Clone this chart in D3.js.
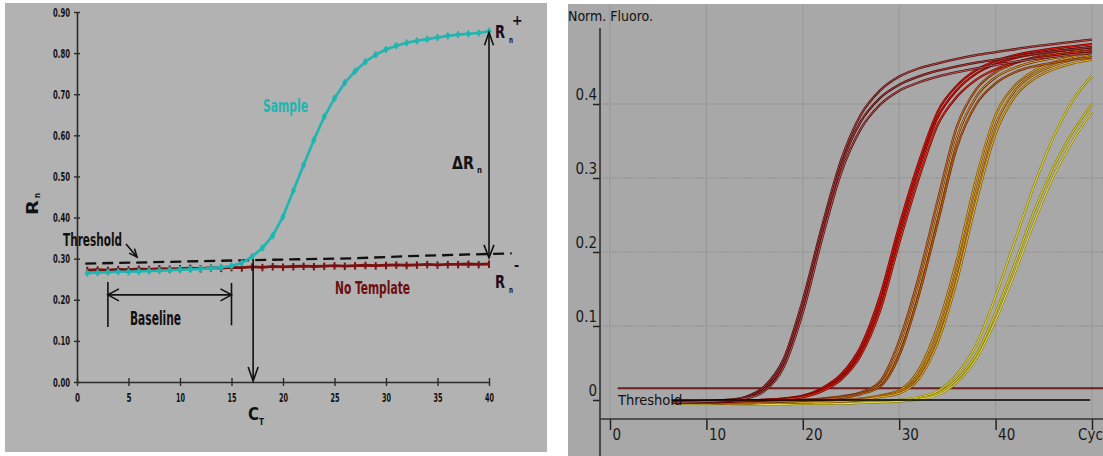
<!DOCTYPE html>
<html lang="en">
<head>
  <meta charset="UTF-8">
  <title>Real-time PCR amplification plots</title>
  <script src="https://cdn.jsdelivr.net/npm/d3@7"></script>
  <style>
    html, body {
      margin: 0;
      padding: 0;
      background: #fff;
    }
    svg { display: block; }
  </style>
</head>
<body>
  <svg id="chart" width="1103" height="456"></svg>
  <script>
    // ---- left panel data (Rn vs cycle)
    const cyclesLeft = [1,2,3,4,5,6,7,8,9,10,11,12,13,14,15,16,17,18,19,20,
      21,22,23,24,25,26,27,28,29,30,31,32,33,34,35,36,37,38,39,40];
    const sampleRn = [0.265,0.266,0.267,0.268,0.268,0.269,0.270,0.271,0.272,0.273,
      0.274,0.275,0.277,0.279,0.282,0.290,0.305,0.326,0.356,0.402,
      0.465,0.528,0.589,0.645,0.690,0.728,0.756,0.779,0.796,0.809,
      0.818,0.825,0.830,0.834,0.838,0.842,0.845,0.847,0.849,0.853];
    const noTemplateRn = [0.272,0.273,0.272,0.274,0.273,0.275,0.274,0.276,0.275,0.276,
      0.277,0.276,0.278,0.277,0.279,0.278,0.280,0.279,0.281,0.280,
      0.281,0.282,0.281,0.282,0.283,0.282,0.283,0.284,0.283,0.284,
      0.285,0.284,0.285,0.286,0.285,0.286,0.286,0.287,0.286,0.287];
    const thresholdLeftCycles = [0.8, 16, 27, 32, 42.2];
    const thresholdLeftRn = [0.288, 0.296, 0.301, 0.306, 0.313];
    const yTicksLeft = [0, 0.1, 0.2, 0.3, 0.4, 0.5, 0.6, 0.7, 0.8, 0.9];
    const xTicksLeft = [0, 5, 10, 15, 20, 25, 30, 35, 40];
    const ctCycle = 17.1;
    const baselineFrom = 3, baselineTo = 15;

    // ---- right panel data (normalised fluorescence vs cycle)
    const cyclesRight = [6.5,8,10,12,14,16,18,20,22,24,26,28,30,32,34,36,38,40,42,44,46,48,50];
    const curvesA = [
      [-0.002,-0.002,-0.001,0.000,0.004,0.018,0.055,0.135,0.235,0.325,0.385,0.418,0.437,0.448,0.455,0.461,0.466,0.470,0.474,0.478,0.481,0.484,0.487],
      [-0.003,-0.003,-0.002,-0.001,0.003,0.015,0.050,0.128,0.228,0.318,0.376,0.408,0.426,0.437,0.445,0.451,0.456,0.460,0.464,0.468,0.471,0.474,0.477],
      [-0.003,-0.003,-0.002,-0.001,0.002,0.012,0.044,0.118,0.218,0.308,0.366,0.399,0.418,0.429,0.437,0.443,0.448,0.453,0.457,0.461,0.464,0.467,0.469]
    ];
    const curvesB = [
      [-0.002,-0.002,-0.002,-0.002,-0.001,0.000,0.002,0.006,0.016,0.035,0.072,0.140,0.235,0.320,0.390,0.425,0.446,0.458,0.466,0.471,0.475,0.478,0.481],
      [-0.002,-0.002,-0.002,-0.002,-0.001,0.000,0.002,0.005,0.014,0.031,0.066,0.130,0.224,0.310,0.382,0.419,0.441,0.454,0.462,0.467,0.471,0.474,0.477],
      [-0.003,-0.003,-0.003,-0.002,-0.001,0.000,0.001,0.004,0.012,0.028,0.060,0.120,0.212,0.298,0.372,0.410,0.433,0.447,0.456,0.462,0.466,0.469,0.472]
    ];
    const curvesC = [
      [-0.003,-0.003,-0.003,-0.003,-0.003,-0.002,-0.001,0.000,0.002,0.005,0.010,0.025,0.080,0.165,0.270,0.370,0.420,0.443,0.455,0.463,0.468,0.472,0.475],
      [-0.003,-0.003,-0.003,-0.003,-0.003,-0.002,-0.001,0.000,0.001,0.004,0.009,0.021,0.068,0.150,0.252,0.355,0.410,0.436,0.449,0.457,0.462,0.466,0.469],
      [-0.004,-0.004,-0.004,-0.003,-0.003,-0.003,-0.002,-0.001,0.001,0.003,0.008,0.018,0.060,0.140,0.240,0.342,0.400,0.428,0.443,0.451,0.456,0.460,0.463]
    ];
    const curvesD = [
      [-0.003,-0.003,-0.004,-0.004,-0.004,-0.004,-0.003,-0.003,-0.002,0.000,0.002,0.006,0.013,0.040,0.100,0.190,0.300,0.385,0.425,0.445,0.456,0.464,0.469],
      [-0.003,-0.003,-0.004,-0.004,-0.004,-0.004,-0.003,-0.003,-0.002,-0.001,0.001,0.005,0.011,0.033,0.088,0.175,0.283,0.372,0.418,0.440,0.452,0.460,0.465],
      [-0.004,-0.004,-0.004,-0.005,-0.005,-0.004,-0.004,-0.003,-0.003,-0.002,0.000,0.004,0.009,0.028,0.078,0.162,0.268,0.360,0.410,0.434,0.447,0.455,0.460]
    ];
    const curvesE = [
      [-0.004,-0.004,-0.005,-0.005,-0.005,-0.005,-0.005,-0.005,-0.004,-0.004,-0.003,-0.002,0.000,0.004,0.012,0.035,0.075,0.140,0.215,0.290,0.355,0.405,0.438],
      [-0.004,-0.004,-0.005,-0.005,-0.005,-0.005,-0.005,-0.005,-0.005,-0.004,-0.004,-0.003,-0.001,0.002,0.009,0.028,0.062,0.118,0.185,0.255,0.315,0.362,0.400],
      [-0.005,-0.005,-0.005,-0.005,-0.006,-0.006,-0.006,-0.005,-0.005,-0.005,-0.004,-0.003,-0.002,0.001,0.007,0.024,0.056,0.108,0.172,0.240,0.302,0.350,0.390]
    ];
    const thresholdRight = 0.016;
    const thresholdRightFrom = 0.8, thresholdRightTo = 52;
    const zeroLineFrom = 6.4, zeroLineTo = 49.8;
    const yTicksRight = [0, 0.1, 0.2, 0.3, 0.4];
    const xTicksRight = [0, 10, 20, 30, 40, 50];

    const NARROW = "'Liberation Sans Narrow', 'Arial Narrow', 'DejaVu Sans Condensed', sans-serif";
    const svg = d3.select('#chart');

    function txt(g, s, x, y, size, opts = {}) {
      const t = g.append('text')
        .attr('x', x).attr('y', y)
        .attr('font-family', NARROW)
        .attr('font-size', size)
        .attr('font-weight', opts.weight || 'bold')
        .attr('fill', opts.fill || '#111')
        .text(s);
      if (opts.len) t.attr('textLength', opts.len).attr('lengthAdjust', 'spacingAndGlyphs');
      if (opts.anchor) t.attr('text-anchor', opts.anchor);
      return t;
    }

    function head(g, x, y, angle, len = 12, half = 5) {
      g.append('path')
        .attr('transform', `translate(${x},${y}) rotate(${angle})`)
        .attr('d', `M${-len},${-half}L0,0L${-len},${half}`)
        .attr('fill', 'none').attr('stroke', '#111').attr('stroke-width', 1.6);
    }

    // =================== LEFT PANEL ===================
    const L = svg.append('g');
    L.append('rect').attr('x', 5).attr('y', 3).attr('width', 542).attr('height', 449).attr('fill', '#b2b2b2');

    const xL = d3.scaleLinear().domain([0, 40]).range([77, 489]);
    const yL = d3.scaleLinear().domain([0, 0.9]).range([382, 12]);

    const yAx = L.append('g').attr('transform', 'translate(77,0)')
      .call(d3.axisLeft(yL).tickValues(yTicksLeft).tickFormat(d3.format('.2f')).tickSize(3).tickSizeOuter(0).tickPadding(4));
    const xAx = L.append('g').attr('transform', 'translate(0,382)')
      .call(d3.axisBottom(xL).tickValues(xTicksLeft).tickFormat(d3.format('d')).tickSize(4).tickSizeOuter(0).tickPadding(7));
    [yAx, xAx].forEach(a => {
      a.select('.domain').attr('stroke', '#2a2a2a').attr('stroke-width', 1.6);
      a.selectAll('.tick line').attr('stroke', '#2a2a2a').attr('stroke-width', 1.4);
      a.selectAll('.tick text')
        .attr('font-family', NARROW).attr('font-weight', 'bold').attr('fill', '#111')
        .attr('lengthAdjust', 'spacingAndGlyphs');
    });
    yAx.selectAll('.tick line').attr('x1', 3);
    yAx.selectAll('.tick text').attr('font-size', 12.5).attr('textLength', 17);
    xAx.selectAll('.tick line').attr('y1', -4);
    xAx.selectAll('.tick text').attr('font-size', 13).attr('textLength', d => d < 10 ? 5 : 9);

    // threshold (dashed)
    const thrLeft = thresholdLeftCycles.map((c, i) => [c, thresholdLeftRn[i]]);
    L.append('path')
      .attr('d', d3.line().x(d => xL(d[0])).y(d => yL(d[1]))(thrLeft))
      .attr('fill', 'none').attr('stroke', '#111').attr('stroke-width', 2.3)
      .attr('stroke-dasharray', '11,6');

    // no template
    const ntc = cyclesLeft.map((c, i) => [c, noTemplateRn[i]]);
    L.append('path')
      .attr('d', d3.line().x(d => xL(d[0])).y(d => yL(d[1]))(ntc))
      .attr('fill', 'none').attr('stroke', '#7a1212').attr('stroke-width', 2.8);
    L.selectAll('.ntcMark').data(ntc).join('line')
      .attr('x1', d => xL(d[0])).attr('x2', d => xL(d[0]))
      .attr('y1', d => yL(d[1]) - 3.5).attr('y2', d => yL(d[1]) + 4)
      .attr('stroke', '#7a1212').attr('stroke-width', 2);

    // sample
    const sample = cyclesLeft.map((c, i) => [c, sampleRn[i]]);
    L.append('path')
      .attr('d', d3.line().x(d => xL(d[0])).y(d => yL(d[1]))(sample))
      .attr('fill', 'none').attr('stroke', '#1fb5b0').attr('stroke-width', 2.6);
    L.selectAll('.sMark').data(sample).join('line')
      .attr('x1', d => xL(d[0])).attr('x2', d => xL(d[0]))
      .attr('y1', d => yL(d[1]) - 3.5).attr('y2', d => yL(d[1]) + 3.5)
      .attr('stroke', '#1fb5b0').attr('stroke-width', 1.8);
    L.selectAll('.sDot').data(sample).join('circle')
      .attr('cx', d => xL(d[0])).attr('cy', d => yL(d[1])).attr('r', 2.4)
      .attr('fill', '#1fb5b0');

    // annotations
    const seg = (x1, y1, x2, y2) => L.append('line')
      .attr('x1', x1).attr('y1', y1).attr('x2', x2).attr('y2', y2)
      .attr('stroke', '#111').attr('stroke-width', 1.6);

    // Ct arrow
    seg(xL(ctCycle), yL(0.299), xL(ctCycle), yL(0) - 1);
    head(L, xL(ctCycle), yL(0) - 1, 90, 14, 5);

    // delta Rn double arrow
    const x40 = xL(40);
    seg(x40, yL(sampleRn[39]) + 1, x40, yL(0.302));
    head(L, x40, yL(sampleRn[39]) + 1, -90, 13, 4.5);
    head(L, x40, yL(0.302), 90, 13, 5);

    // baseline bracket
    seg(xL(baselineFrom), yL(0.243), xL(baselineFrom), yL(0.134));
    seg(xL(baselineTo), yL(0.241), xL(baselineTo), yL(0.138));
    seg(xL(baselineFrom), yL(0.212), xL(baselineTo), yL(0.212));
    head(L, xL(baselineFrom), yL(0.212), 180, 11, 6);
    head(L, xL(baselineTo), yL(0.212), 0, 11, 6);

    // threshold pointer
    seg(126, 244, 137, 257);
    head(L, 137, 257, 50, 8, 3.5);

    txt(L, 'Threshold', 63, 246, 17, { len: 59 });
    txt(L, 'Baseline', 130, 325, 19, { len: 51 });
    txt(L, 'Sample', 263, 112, 17, { len: 45, fill: '#1fb5b0' });
    txt(L, 'No Template', 335, 294, 17, { len: 75, fill: '#6e0e0e' });
    txt(L, '\u0394R', 452, 169, 18, { len: 22 });
    txt(L, 'n', 477, 173, 9, { len: 5 });
    txt(L, 'R', 495, 38, 18, { len: 10, fill: '#1e0c1e' });
    txt(L, 'n', 509, 43, 9, { len: 4, fill: '#1e0c1e' });
    txt(L, '+', 512, 25, 14, { fill: '#1e0c1e' });
    txt(L, 'R', 495, 288, 18, { len: 10, fill: '#1e0c1e' });
    txt(L, 'n', 509, 293, 9, { len: 4, fill: '#1e0c1e' });
    txt(L, '-', 514, 270, 14, { fill: '#1e0c1e' });
    txt(L, 'C', 248, 420, 18, { len: 11 });
    txt(L, 'T', 259, 425, 9, { len: 5 });
    const yLab = L.append('g').attr('transform', 'translate(38,215) rotate(-90)');
    txt(yLab, 'R', 0, 0, 16, { len: 15 });
    txt(yLab, 'n', 17, 2, 9, { len: 5 });

    // =================== RIGHT PANEL ===================
    const R = svg.append('g');
    R.append('rect').attr('x', 568).attr('y', 4).attr('width', 535).attr('height', 452).attr('fill', '#a8a8a8');

    const xR = d3.scaleLinear().domain([0, 50]).range([610, 1092]);
    const yR = d3.scaleLinear().domain([0, 0.4]).range([400, 104]);

    R.selectAll('.vgrid').data(xTicksRight).join('line')
      .attr('x1', d => xR(d)).attr('x2', d => xR(d)).attr('y1', 5).attr('y2', 419)
      .attr('stroke', '#9a9a9a').attr('stroke-width', 1.2);
    R.selectAll('.hgrid').data(yTicksRight.filter(d => d > 0)).join('line')
      .attr('x1', 600).attr('x2', 1103).attr('y1', d => yR(d)).attr('y2', d => yR(d))
      .attr('stroke', '#8e8e8e').attr('stroke-width', 1.2).attr('stroke-dasharray', '2,1');

    const yAxR = R.append('g').attr('transform', 'translate(600,0)')
      .call(d3.axisLeft(yR).tickValues(yTicksRight).tickFormat(d => d === 0 ? '0' : d3.format('.1f')(d))
        .tickSize(7).tickSizeOuter(0).tickPadding(3));
    yAxR.select('.domain').remove();
    yAxR.selectAll('.tick line').attr('stroke', '#222').attr('stroke-width', 1.5);
    yAxR.selectAll('.tick text')
      .attr('font-family', NARROW).attr('font-size', 15).attr('fill', '#1a1a1a')
      .attr('x', -3).attr('dy', null).attr('y', -5);

    // the last tick carries no number: the "Cycle" title sits there
    const xAxR = R.append('g').attr('transform', 'translate(0,419)')
      .call(d3.axisBottom(xR).tickValues(xTicksRight).tickFormat(d => d === 50 ? '' : d3.format('d')(d))
        .tickSize(11).tickSizeOuter(0));
    xAxR.select('.domain').remove();
    xAxR.selectAll('.tick line').attr('stroke', '#222').attr('stroke-width', 1.5);
    xAxR.selectAll('.tick text')
      .attr('font-family', NARROW).attr('font-size', 15).attr('fill', '#1a1a1a')
      .attr('text-anchor', 'start').attr('x', 2).attr('dy', null).attr('y', 21);

    R.append('line').attr('x1', 600).attr('x2', 600).attr('y1', 28).attr('y2', 456)
      .attr('stroke', '#333').attr('stroke-width', 1.6);
    R.append('line').attr('x1', 600).attr('x2', 1103).attr('y1', 419).attr('y2', 419)
      .attr('stroke', '#333').attr('stroke-width', 1.6);

    // threshold line
    R.append('line')
      .attr('x1', xR(thresholdRightFrom)).attr('x2', xR(thresholdRightTo))
      .attr('y1', yR(thresholdRight)).attr('y2', yR(thresholdRight))
      .attr('stroke', '#6e1c1c').attr('stroke-width', 2);

    // amplification curves
    const lineR = d3.line().curve(d3.curveMonotoneX).x(d => xR(d[0])).y(d => yR(d[1]));
    const groups = [
      { curves: curvesE, outer: '#8c8010', inner: ['#f0e640', '#e8dc30', '#f4ee60'] },
      { curves: curvesD, outer: '#7c4a06', inner: ['#f0b420', '#e8a018', '#f6c830'] },
      { curves: curvesC, outer: '#6a2a0a', inner: ['#d87a22', '#e8b030', '#c86a1c'] },
      { curves: curvesB, outer: '#7a0000', inner: ['#e81c0c', '#d81408', '#e04020'] },
      { curves: curvesA, outer: '#4a0c0c', inner: ['#c05050', '#b04040', '#c86060'] }
    ];
    groups.forEach(gr => {
      gr.curves.forEach((vals, i) => {
        const pts = cyclesRight.map((c, j) => [c, vals[j]]);
        R.append('path').attr('d', lineR(pts))
          .attr('fill', 'none').attr('stroke', gr.outer).attr('stroke-width', 2.3);
        R.append('path').attr('d', lineR(pts))
          .attr('fill', 'none').attr('stroke', gr.inner[i]).attr('stroke-width', 0.9);
      });
    });

    R.append('line')
      .attr('x1', xR(zeroLineFrom)).attr('x2', xR(zeroLineTo))
      .attr('y1', yR(0)).attr('y2', yR(0))
      .attr('stroke', '#000').attr('stroke-width', 1.6);

    txt(R, 'Threshold', 618, 405, 14.5, { weight: 'normal', fill: '#111' });
    txt(R, 'Norm. Fluoro.', 568, 21, 14, { weight: 'normal', fill: '#111' });
    txt(R, 'Cycle', 1078, 440, 15, { weight: 'normal', fill: '#1a1a1a' });
  </script>
</body>
</html>
